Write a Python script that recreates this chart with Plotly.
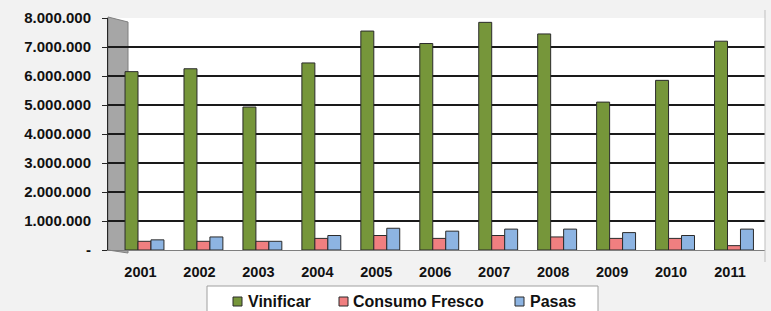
import plotly.graph_objects as go

years = ["2001", "2002", "2003", "2004", "2005", "2006", "2007", "2008", "2009", "2010", "2011"]
vinificar = [6150000, 6250000, 4930000, 6450000, 7550000, 7120000, 7850000, 7450000, 5100000, 5850000, 7200000]
consumo_fresco = [300000, 300000, 300000, 400000, 500000, 400000, 500000, 450000, 400000, 400000, 150000]
pasas = [350000, 450000, 300000, 500000, 750000, 650000, 720000, 720000, 600000, 500000, 720000]
y_tick_vals = [0, 1000000, 2000000, 3000000, 4000000, 5000000, 6000000, 7000000, 8000000]
y_tick_text = ["-", "1.000.000", "2.000.000", "3.000.000", "4.000.000", "5.000.000",
               "6.000.000", "7.000.000", "8.000.000"]
series_names = ["Vinificar", "Consumo Fresco", "Pasas"]
series_colors = ["#76963a", "#f07f80", "#8db4e2"]

FONT = "Liberation Sans, Arial, sans-serif"
edge = dict(color="#2b2b2b", width=1)

W, H = 771, 311
L, R, T, B = 108, 6, 18, 61
pw = W - L - R
ph = H - T - B


def px(x):
    return (x - L) / pw


def py(y):
    return (H - B - y) / ph


fig = go.Figure()
for name, vals, col in zip(series_names, [vinificar, consumo_fresco, pasas], series_colors):
    fig.add_trace(go.Bar(name=name, x=years, y=vals, marker=dict(color=col, line=edge),
                         showlegend=False))

shapes = [
    # left side wall (3D look)
    dict(type="path", xref="paper", yref="paper",
         path=f"M 0 {py(17)} L {px(128)} {py(22)} L {px(128)} {py(253)} L 0 {py(250)} Z",
         fillcolor="#a6a6a6", line=dict(color="#7f7f7f", width=1), layer="below"),
    # right border
    dict(type="line", xref="paper", yref="paper", x0=1, x1=1, y0=py(262), y1=py(10),
         line=dict(color="#bfbfbf", width=1)),
    # legend box
    dict(type="rect", xref="paper", yref="paper", x0=px(207), x1=px(598), y0=py(318), y1=py(286),
         fillcolor="white", line=dict(color="#a0a0a0", width=1)),
]
annotations = []
legend_sq_x = [233, 339, 515]
legend_txt_x = [246, 351, 528]
for name, col, sx, tx in zip(series_names, series_colors, legend_sq_x, legend_txt_x):
    shapes.append(dict(type="rect", xref="paper", yref="paper",
                       x0=px(sx), x1=px(sx + 9), y0=py(306), y1=py(297),
                       fillcolor=col, line=dict(color="#2b2b2b", width=1)))
    annotations.append(dict(xref="paper", yref="paper", x=px(tx), y=py(301.5),
                            xanchor="left", yanchor="middle", text=name, showarrow=False,
                            font=dict(family=FONT, size=16, color="#111111", weight="bold")))

fig.update_layout(
    width=W, height=H,
    margin=dict(l=L, r=R, t=T, b=B, autoexpand=False),
    paper_bgcolor="#f2f2f2",
    plot_bgcolor="white",
    barmode="group",
    bargap=0.34,
    bargroupgap=0,
    font=dict(family=FONT, size=14, color="#111111", weight="bold"),
    showlegend=False,
    shapes=shapes,
    annotations=annotations,
)

fig.update_yaxes(range=[0, 8000000], tickvals=y_tick_vals, ticktext=y_tick_text,
                 automargin=False,
                 showgrid=True, gridcolor="#1a1a1a", gridwidth=1.5,
                 showline=True, linecolor="#262626", linewidth=1,
                 ticks="outside", ticklen=5, tickcolor="#262626",
                 ticklabelstandoff=8, zeroline=False,
                 tickfont=dict(family=FONT, size=15, color="#111111", weight="bold"))
fig.update_xaxes(range=[-0.619, 10.526], automargin=False, showgrid=False, showline=True,
                 linecolor="#7f7f7f", linewidth=1, ticks="",
                 ticklabelstandoff=9, ticklabelshift=-4,
                 tickfont=dict(family=FONT, size=14.5, color="#111111", weight="bold"))

fig.write_html("out.html", config={"displayModeBar": False},
               post_script="document.body.style.margin='0';document.body.style.background='#f2f2f2';")
